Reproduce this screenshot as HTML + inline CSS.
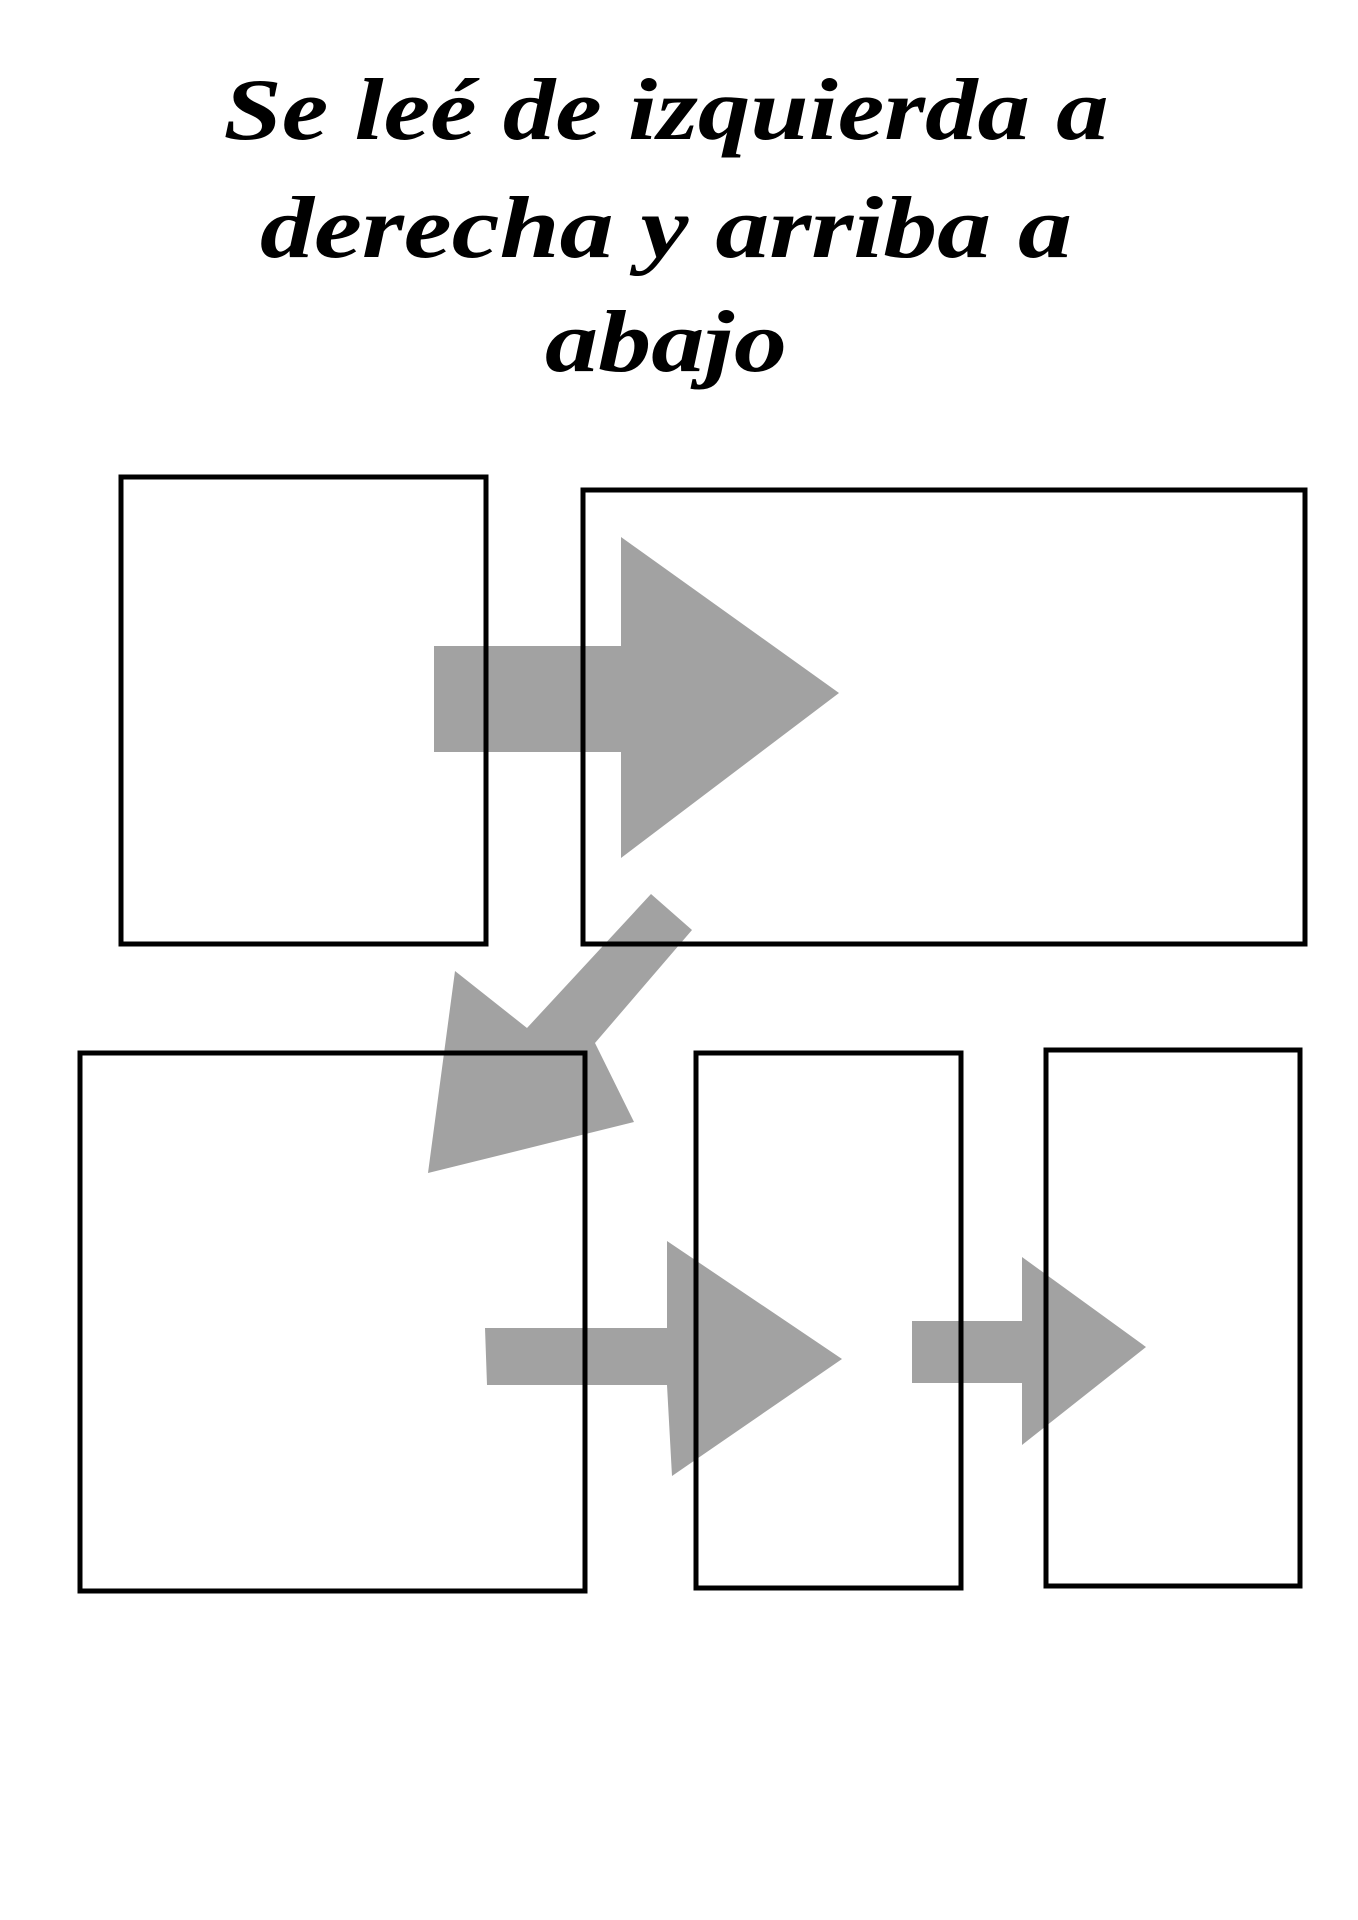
<!DOCTYPE html>
<html><head><meta charset="utf-8"><style>
html,body{margin:0;padding:0;background:#fff;}
svg{display:block;}
</style></head><body>
<svg width="1358" height="1920" viewBox="0 0 1358 1920" xmlns="http://www.w3.org/2000/svg">
<g font-family="'Liberation Serif', serif" font-weight="bold" font-style="italic" font-size="88" fill="#000" text-anchor="middle">
<text x="666" y="139" textLength="885" lengthAdjust="spacingAndGlyphs">Se leé de izquierda a</text>
<text x="666" y="257" textLength="812" lengthAdjust="spacingAndGlyphs">derecha y arriba a</text>
<text x="666" y="371" textLength="242" lengthAdjust="spacingAndGlyphs">abajo</text>
</g>
<g fill="#a2a2a2">
<polygon points="434,646 621,646 621,537 839,693 621,858 621,752 434,752"/>
<polygon points="651,894 692,930 595,1043 634,1122 428,1173 455,971 527,1028"/>
<polygon points="485,1328 667,1328 667,1241 842,1359 672,1476 667,1385 487,1385"/>
<polygon points="912,1321 1022,1321 1022,1257 1146,1347 1022,1445 1022,1383 912,1383"/>
</g>
<g fill="none" stroke="#000" stroke-width="5">
<rect x="121" y="477" width="365" height="467"/>
<rect x="583" y="490" width="722" height="454"/>
<rect x="80" y="1053" width="505" height="538"/>
<rect x="696" y="1053" width="265" height="535"/>
<rect x="1046" y="1050" width="254" height="536"/>
</g>
</svg>
</body></html>
